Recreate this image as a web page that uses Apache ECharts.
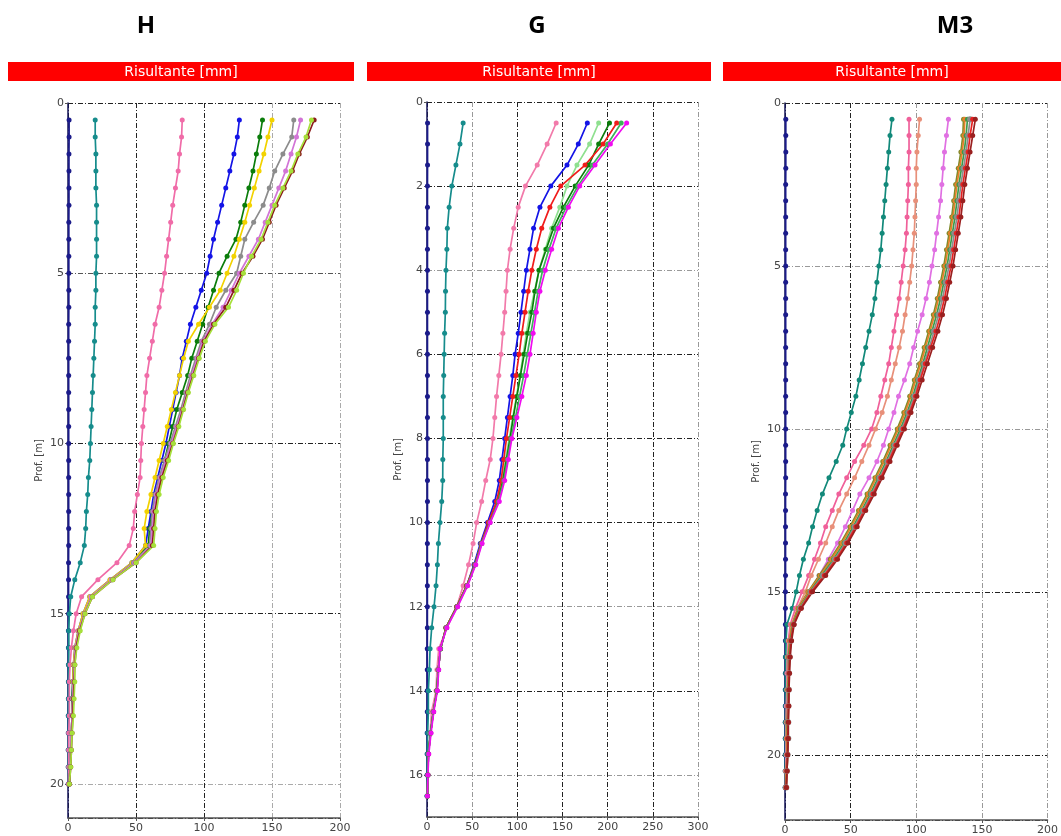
<!DOCTYPE html>
<html>
<head>
<meta charset="utf-8">
<title>Risultante [mm]</title>
<script src="https://cdn.jsdelivr.net/npm/echarts@6.0.0/dist/echarts.min.js"></script>
<style>
html, body { margin: 0; padding: 0; background: #fff; }
#chart { width: 1061px; height: 836px; }
</style>
</head>
<body>
<div id="chart"></div>
<script>
// profondità (m) dei punti di lettura
const depthH = [0.5,1,1.5,2,2.5,3,3.5,4,4.5,5, 5.5,6,6.5,7,7.5,8,8.5,9,9.5,10,
  10.5,11,11.5,12,12.5,13,13.5,14,14.5,15, 15.5,16,16.5,17,17.5,18,18.5,19,19.5,20];
const depthG = [0.5,1,1.5,2,2.5,3,3.5,4,4.5,5, 5.5,6,6.5,7,7.5,8,8.5,9,9.5,10,
  10.5,11,11.5,12,12.5,13,13.5,14,14.5,15, 15.5,16,16.5];
const depthM = [0.5,1,1.5,2,2.5,3,3.5,4,4.5,5, 5.5,6,6.5,7,7.5,8,8.5,9,9.5,10,
  10.5,11,11.5,12,12.5,13,13.5,14,14.5,15, 15.5,16,16.5,17,17.5,18,18.5,19,19.5,20, 20.5,21];

// --- H ---
const hNavy = [0.8,0.8,0.7,0.7,0.7,0.7,0.6,0.6,0.6,0.6, 0.6,0.6,0.5,0.5,0.5,0.5,0.5,0.5,0.5,0.5,
  0.5,0.5,0.5,0.5,0.5,0.5,0.4,0.4,0.4,0.4, 0.3,0.3,0.3,0.3,0.3,0.2,0.2,0.2,0.2,0.2];
const hTeal = [20,20,20.5,20.5,20.5,21,21,21,21,20.5, 20.5,20,20,19.5,19,18.5,18,17.5,17,16.5,
  16,15,14.5,13.5,13,12,9,5,2,1, 0.5,0.5,0.4,0.4,0.3,0.3,0.3,0.2,0.2,0.2];
const hPink = [84,83.5,82,81,79,77,75.5,74,72.5,71, 69,67,64,62,60,58,57,56,55,54,
  53.5,53,51,49,48,45,36,22,10,6, 4,2.5,1.5,1,1,1,0.5,0.5,0.5,0.3];
const hBlue = [126,124.5,122,119,116,113,110,107,104.5,102, 98,94,90,87,84,82,79.5,77,74.5,72,
  69,66,63,61,59,57,47,31,16,11, 7.5,5,4,3.5,3,3,2.5,2,1.5,1];
const hGreen = [143,141,138.5,136,133,130,127,123.5,117,111, 107,103,99,95,91,88,84,80,77,74,
  71,68,65,62,60,59,48,32,17,11.5, 8,5.5,4,3.5,3,3,2.5,2,1.5,1];
const hYellow = [150,147,144,140.5,137,133.5,130,126,122,117, 112,104,96,88.5,85,82,79,76,73,70,
  67,64,61,58,56,57,47,31,16,11, 7.5,5,4,3.5,3.5,3,2.5,2,1.5,1];
const hGray = [166,164.5,158,152,148,143.5,136.5,130,127,124, 116,109,104,98,94,90,86.5,83,79,75,
  71,67,64,62,61,60,48,32,17,12, 8,5.5,4.5,4,3.5,3,2.5,2,1.5,1];
const hViolet = [171,168,164,160,155,150,145,140,133,126, 120,114,106,99,95,91,87.5,84,80,76,
  72,68,65,63,62,61,49,32,17,12, 8,5.5,4.5,4,3.5,3,2.5,2,1.5,1];
const hBrown = [181,176,170,165,159,153,148,143,136,128, 122,116,107,100,96,92,88,84.5,81,77,
  73,69,66,64,63,62,50,33,18,12.5, 8.5,6,5,4.5,4,3.5,3,2.5,2,1];
const hLime = [179,175,169,164,158,152,147,142,135,129, 124,118,108,101,96.5,92.5,88.5,85,81.5,77.5,
  74,70,67,65,64,63,50,33,18,12.5, 9,6.5,5,5,4.5,4,3,2.5,2,1];

// --- G ---
const gNavy = [0.6,0.6,0.6,0.5,0.5,0.5,0.5,0.5,0.5,0.5, 0.5,0.5,0.5,0.5,0.5,0.5,0.5,0.5,0.5,0.5,
  0.4,0.4,0.4,0.4,0.4,0.3,0.3,0.3,0.3,0.2, 0.2,0.2,0.1];
const gTeal = [40,36.5,32,27.5,24.5,22.5,22,21,20.5,20.3, 19.5,19,18.5,18,18,18,17.5,17.4,16.3,14.4,
  12.6,11.5,10,7.8,5.2,3.4,2.6,1.5,1.5,0.7, 0.4,0.2,0];
const gPink = [143,133,122,109,101,96,92,89,87.5,86, 84,82,79.5,77,75,73,70,65,60.5,55,
  51,46,40,33,22,13,11,10,5,3.5, 1.5,1,0.5];
const gBlue = [177.5,167.5,155,137,125,118,114,110,107,104, 101,97.5,95,92,89,86,83,80,75,67,
  59,52,44,33,21,15,12.5,11,7,4, 1.5,1,0.5];
const gLightGreen = [190,180,166,155,147,138,131,124,119,114, 110,106.5,103,99,95,91,87,83,78,69,
  60,53,44,33,21,15,12.5,11,7,4, 1.5,1,0.5];
const gDarkGreen = [202,190,179,164,151,140,132,124,119.5,116, 111.5,107.5,103.5,99.5,95.5,92,88,84,78.5,69,
  60,53,44,33,21,15,12.5,11,7,4, 1.5,1,0.5];
const gRed = [210,195,175,148,136,127,121,116,112,108.5, 105,102,98.5,95,91.5,88,85,82,77,68,
  60,53,44,33,21,15,12.5,11,7,4, 1.5,1,0.5];
const gGreen = [215,200,183,167,154,143,135,128,123,119, 115,111,107,102.5,98,93,89,85,79,69.5,
  60.5,53.5,44.5,33.5,21.5,15,12.5,11,7,4, 1.5,1,0.5];
const gMagenta = [221,203,186,169,156.5,145.5,138,131,125,121, 117.5,114,110,105,99.5,94,90,86,80,70,
  61,54,45,34,22,14.5,13,11.5,7.5,4.5, 2,1,0.5];

// --- M3 ---
const mNavy = [0.6,0.6,0.6,0.6,0.5,0.5,0.5,0.5,0.5,0.5, 0.5,0.5,0.5,0.5,0.5,0.5,0.5,0.5,0.5,0.5,
  0.5,0.5,0.5,0.4,0.4,0.4,0.4,0.4,0.4,0.3, 0.3,0.3,0.3,0.3,0.3,0.2,0.2,0.2,0.2,0.2, 0.2,0.1];
const mTeal = [81.5,80,79,78,77,76,75,74,73,71.5, 70,68.5,66.5,64,61.5,59,56.5,54,50.5,47,
  44,39,33.5,28.5,24.5,21,18,14,11,8.5, 5.5,1.5,0.8,0.5,0.5,0.4,0.4,0.3,0.3,0.3, 0.2,0.2];
const mPink = [94.5,94.5,94.5,94,94,93.5,93,92.5,91.5,90, 88.5,87,85,83,81,79,76,73,70,66,
  60,53,47,41,36,31,27,22.5,18,13, 8,4,2.5,2,1.5,1.5,1,1,1,1, 0.5,0.5];
const mSalmon = [102.5,101.5,100.5,100,100,99.5,99,98.5,97.5,96.5, 95,93.5,91.5,89.5,87,84,81,78,74,69,
  64,58.5,53,47,41,36,31,25.5,20,15.5, 9.5,5,3,2,2,1.5,1.5,1,1,1, 0.5,0.5];
const mViolet = [124.5,123,121.5,120.5,119.5,118.5,117,115.5,114,112, 110,107.5,104.5,101,98,95,91,86.5,83,79,
  75,70,64,57,51.5,46,40,33,26,18.5, 11,6,3.5,2.5,2,2,1.5,1.5,1.5,1, 1,0.5];
const mOlive = [136,135.5,134,132,130,128.5,127,125,123,121, 118.5,116,113,109.5,106,102.5,98.5,95,90.5,85.5,
  80,74.5,68.5,62.5,56,49.5,42.5,34.5,26,17.5, 10,5.5,3.5,2.5,2.5,2,2,1.5,1.5,1.5, 1,0.5];
const mOrange = [137,136.5,135,133,131,129.5,128,126,124,122, 119.5,117,114,110.5,107,103.5,99.5,96,91.5,86.5,
  81,75.5,69.5,63.5,57,50.5,43.5,35.5,27,18, 10.5,5.5,3.5,3,2.5,2.5,2,2,1.5,1.5, 1,0.5];
const mGreen = [139,138,136.5,134.5,132.5,131,129.5,127.5,125.5,123.5, 121,118.5,115.5,112,108.5,105,101,97.5,93,88,
  82.5,77,71,65,58.5,52,45,37,28,19, 11,6,4,3,3,2.5,2.5,2,2,2, 1.5,1];
const mGray = [141,139.5,138,136,134,132.5,131,129,127,125, 122.5,120,117,113.5,110,106,102,98.5,94,89,
  83.5,78,72,66,59.5,53,46,38,29,19.5, 11.5,6.5,4.5,3.5,3,3,2.5,2.5,2.5,2, 1.5,1];
const mRed = [143,141,139.5,137.5,135.5,134,132.5,130.5,128.5,126.5, 124,121.5,118.5,115,111,107,103,99.5,95,90,
  84.5,79,73,67,60.5,54,47,39,30,20, 12,6.5,4.5,3.5,3,3,2.5,2.5,2,2, 1.5,1];
const mDarkRed = [145,143,141,139,137,135.5,134,132,130,128, 125.5,123,120,116.5,112.5,108.5,104.5,100.5,96,91,
  85.5,80,74,68,61.5,55,48,40,31,21, 12.5,7,5,4,3.5,3,3,2.5,2.5,2, 1.5,1];

const fontFam = '"DejaVu Sans", sans-serif';
const dashDot = [5, 2, 1, 2];

const panels = [
  {
    title: 'H', titleX: 146, bar: [8, 354],
    grid: { left: 68, top: 103, width: 272, height: 715 },
    xMax: 200, yMax: 21, yStep: 5, depth: depthH,
    xGridColors: ['#222', '#222', '#222', '#aaa', '#aaa'],
    yGridColors: ['#222', '#555', '#222', '#222', '#aaa', '#222'],
    lines: [
      { c: '#1b1b8a', v: hNavy },
      { c: '#168c8c', v: hTeal },
      { c: '#f06ca8', v: hPink },
      { c: '#1414e6', v: hBlue },
      { c: '#0b7d0b', v: hGreen },
      { c: '#f2d200', v: hYellow },
      { c: '#8c8c8c', v: hGray },
      { c: '#d274d6', v: hViolet },
      { c: '#8b1c1c', v: hBrown },
      { c: '#a6e03a', v: hLime }
    ]
  },
  {
    title: 'G', titleX: 537, bar: [367, 711],
    grid: { left: 427, top: 102, width: 271, height: 715 },
    xMax: 300, yMax: 17, yStep: 2, depth: depthG,
    xGridColors: ['#222', '#999', '#222', '#222', '#222', '#222', '#999'],
    yGridColors: ['#222', '#222', '#999', '#222', '#222', '#222', '#999', '#222', '#999', '#222'],
    lines: [
      { c: '#1b1b8a', v: gNavy },
      { c: '#168c8c', v: gTeal },
      { c: '#f27aaa', v: gPink },
      { c: '#1414e6', v: gBlue },
      { c: '#8fe08f', v: gLightGreen },
      { c: '#0b7d0b', v: gDarkGreen },
      { c: '#f01c1c', v: gRed },
      { c: '#3cb35a', v: gGreen },
      { c: '#f00cf0', v: gMagenta }
    ]
  },
  {
    title: 'M3', titleX: 955, bar: [723, 1061],
    grid: { left: 785, top: 103, width: 270, height: 717 },
    xMax: 200, yMax: 22, yStep: 5, depth: depthM,
    xGridColors: ['#222', '#222', '#999', '#999', '#999'],
    yGridColors: ['#222', '#999', '#999', '#222', '#222', '#222'],
    lines: [
      { c: '#1b1b8a', v: mNavy },
      { c: '#12897a', v: mTeal },
      { c: '#f0609a', v: mPink },
      { c: '#e8907a', v: mSalmon },
      { c: '#e070e2', v: mViolet },
      { c: '#7f8a2a', v: mOlive },
      { c: '#e8802a', v: mOrange },
      { c: '#3a9a4a', v: mGreen },
      { c: '#8c8c8c', v: mGray, size: 6 },
      { c: '#e82020', v: mRed },
      { c: '#9a2020', v: mDarkRed }
    ]
  }
];

const grids = [], xAxes = [], yAxes = [], series = [], graphics = [];

panels.forEach((p, i) => {
  grids.push(Object.assign({ containLabel: false }, p.grid));

  xAxes.push({
    gridIndex: i, type: 'value', min: 0, max: p.xMax, interval: 50, position: 'bottom',
    axisLine: { show: true, onZero: false, lineStyle: { color: '#555', width: 1.5 } },
    axisTick: { show: true, length: 3, lineStyle: { color: '#555' } },
    axisLabel: { color: '#444', fontSize: 11, margin: 5, fontFamily: fontFam },
    splitLine: { show: true, lineStyle: { color: p.xGridColors, type: dashDot, width: 1 } }
  });

  yAxes.push({
    gridIndex: i, type: 'value', inverse: true, min: 0, max: p.yMax, interval: p.yStep,
    name: 'Prof. [m]', nameLocation: 'middle', nameGap: 24, nameRotate: 90,
    nameTextStyle: { color: '#444', fontSize: 10, fontFamily: fontFam },
    axisLine: { show: true, onZero: false, lineStyle: { color: '#14145a', width: 1.5 } },
    axisTick: { show: true, length: 3, lineStyle: { color: '#555' } },
    axisLabel: { color: '#444', fontSize: 11, margin: 4, fontFamily: fontFam, showMaxLabel: false },
    splitLine: { show: true, lineStyle: { color: p.yGridColors, type: dashDot, width: 1 } }
  });

  p.lines.forEach(l => {
    series.push({
      type: 'line', xAxisIndex: i, yAxisIndex: i,
      data: l.v.map((v, k) => [v, p.depth[k]]),
      symbol: 'circle', symbolSize: l.size || 5, showSymbol: true,
      lineStyle: { color: l.c, width: 1.7 },
      itemStyle: { color: l.c },
      animation: false, silent: true
    });
  });

  // titolo del pannello e barra rossa
  graphics.push({
    type: 'text', x: p.titleX, y: 26,
    style: { text: p.title, font: 'bold 24px "Open Sans", sans-serif', fill: '#000', align: 'center', verticalAlign: 'middle' }
  });
  graphics.push({
    type: 'rect', shape: { x: p.bar[0], y: 62, width: p.bar[1] - p.bar[0], height: 19 },
    style: { fill: '#ff0000' }
  });
  graphics.push({
    type: 'text', x: (p.bar[0] + Math.min(p.bar[1], 1067)) / 2, y: 72,
    style: { text: 'Risultante [mm]', font: '14px "DejaVu Sans", sans-serif', fill: '#fff', align: 'center', verticalAlign: 'middle' }
  });
});

const chart = echarts.init(document.getElementById('chart'));
chart.setOption({
  backgroundColor: '#fff',
  animation: false,
  grid: grids,
  xAxis: xAxes,
  yAxis: yAxes,
  series: series,
  graphic: graphics
});
</script>
</body>
</html>
